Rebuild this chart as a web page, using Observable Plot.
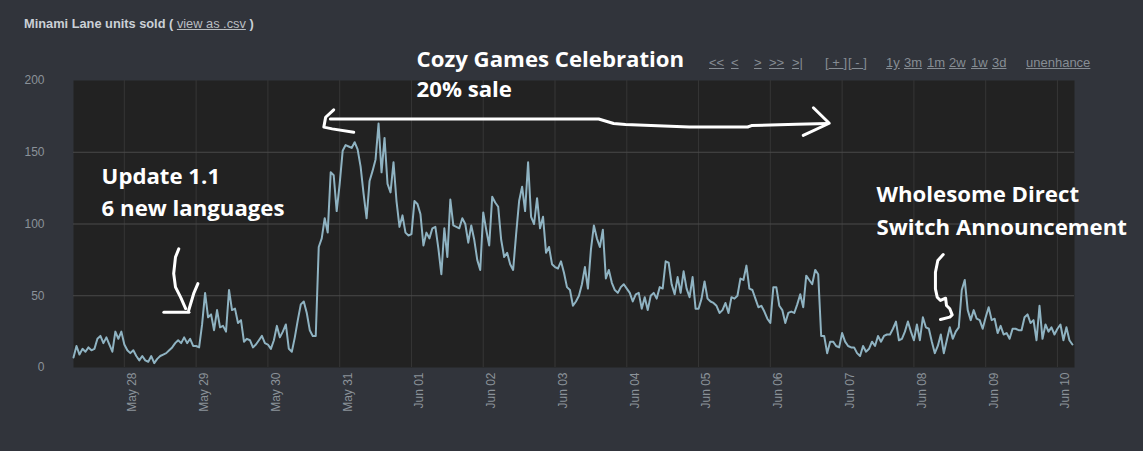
<!DOCTYPE html>
<html>
<head>
<meta charset="utf-8">
<script src="https://cdn.jsdelivr.net/npm/d3@7"></script>
<script src="https://cdn.jsdelivr.net/npm/@observablehq/plot@0.6"></script>
<style>
  html, body { margin: 0; padding: 0; background: #31343b; width: 1143px; height: 451px; overflow: hidden; }
  #wrap { position: relative; width: 1143px; height: 451px; }
  #chart { position: absolute; left: 0; top: 0; }
  .title { position: absolute; left: 24px; top: 16px; font: bold 12.8px Arial, "Liberation Sans", sans-serif; color: #cbd0d6; white-space: nowrap; }
  .title a { color: #b9bdc1; text-decoration: underline; font-weight: normal; }
  .nav span { position: absolute; top: 55px; font: 13px Arial, "Liberation Sans", sans-serif; color: #868d94; white-space: nowrap; }
  .nav u { text-decoration: underline; }
</style>
</head>
<body>
<div id="wrap">
  <div id="chart"></div>
  <div class="title">Minami Lane units sold ( <a>view as .csv</a> )</div>
  <div class="nav">
    <span style="left:709px"><u>&lt;&lt;</u></span>
    <span style="left:731px"><u>&lt;</u></span>
    <span style="left:754px"><u>&gt;</u></span>
    <span style="left:769px"><u>&gt;&gt;</u></span>
    <span style="left:792px"><u>&gt;|</u></span>
    <span style="left:825px">[<u> + </u>]</span>
    <span style="left:848px">[<u> - </u>]</span>
    <span style="left:886px"><u>1y</u></span>
    <span style="left:904px"><u>3m</u></span>
    <span style="left:927px"><u>1m</u></span>
    <span style="left:949px"><u>2w</u></span>
    <span style="left:971px"><u>1w</u></span>
    <span style="left:992px"><u>3d</u></span>
    <span style="left:1026px"><u>unenhance</u></span>
  </div>
</div>
<script>
// ---- data: hourly units sold, first value at 2024-05-27 07:00 ----
const may27 = [7, 15, 9, 13, 11, 14, 12, 13, 20, 22, 17, 21, 16, 11, 25, 20, 25];
const may28 = [16, 12, 10, 12, 8, 5, 8, 5, 4, 8, 3, 6, 8, 9, 10, 12, 14, 17, 19, 17, 21, 17, 20, 15];
const may29 = [15, 14, 30, 52, 35, 37, 26, 40, 28, 29, 25, 54, 40, 41, 31, 33, 18, 20, 19, 14, 16, 19, 22, 17];
const may30 = [16, 13, 19, 29, 21, 25, 30, 13, 11, 21, 33, 44, 46, 38, 26, 22, 22, 84, 90, 104, 94, 136, 134, 109];
const may31 = [128, 151, 155, 154, 153, 157, 152, 140, 121, 104, 130, 137, 145, 170, 136, 160, 128, 122, 143, 116, 98, 106, 94, 92];
const jun01 = [93, 116, 114, 107, 85, 94, 90, 97, 98, 83, 65, 97, 77, 117, 99, 98, 97, 104, 100, 87, 99, 89, 75, 68];
const jun02 = [108, 96, 85, 119, 115, 112, 89, 77, 80, 72, 68, 93, 116, 126, 109, 143, 105, 100, 118, 97, 105, 80, 84, 72];
const jun03 = [70, 69, 74, 66, 56, 54, 43, 46, 50, 58, 70, 55, 82, 99, 90, 84, 96, 62, 68, 59, 54, 52, 56, 58];
const jun04 = [55, 52, 46, 51, 52, 41, 49, 40, 50, 52, 48, 56, 55, 74, 73, 58, 51, 63, 52, 67, 55, 49, 63, 41];
const jun05 = [41, 48, 60, 48, 46, 45, 43, 38, 40, 45, 38, 49, 48, 50, 62, 61, 71, 55, 54, 48, 42, 43, 39, 34];
const jun06 = [31, 56, 56, 43, 40, 31, 38, 39, 38, 44, 51, 42, 64, 61, 58, 68, 65, 22, 22, 10, 18, 18, 15, 14];
const jun07 = [24, 18, 15, 14, 14, 10, 8, 15, 11, 13, 18, 15, 22, 18, 22, 23, 23, 27, 32, 19, 20, 25, 32, 25];
const jun08 = [19, 30, 19, 35, 28, 27, 18, 10, 15, 23, 10, 19, 28, 20, 25, 28, 54, 61, 40, 33, 40, 34, 33, 27];
const jun09 = [35, 42, 33, 34, 24, 29, 23, 24, 20, 27, 27, 26, 26, 35, 37, 31, 33, 19, 43, 20, 30, 25, 28, 23];
const jun10 = [27, 30, 19, 28, 19, 16];

const dayTicks = ["2024-05-28","2024-05-29","2024-05-30","2024-05-31","2024-06-01","2024-06-02","2024-06-03",
                  "2024-06-04","2024-06-05","2024-06-06","2024-06-07","2024-06-08","2024-06-09","2024-06-10"];
const yTicks = [0, 50, 100, 150, 200];
const yGrid = [50, 100, 150];

// annotation text lines: [text, hour offset, units]
const noteLines = [
  ["Cozy Games Celebration", 114.7, 209.4],
  ["20% sale", 114.7, 188.4],
  ["Update 1.1", 9.4, 128],
  ["6 new languages", 9.4, 105.9],
  ["Wholesome Direct", 268.5, 115],
  ["Switch Announcement", 268.5, 92]
];
// hand-drawn arrow strokes: [hour offset, units]
const saleLeftHead = [[87.0,179.6],[84.3,174.4],[83.7,167.5],[86.5,166.3],[93.7,164]];
const saleShaft = [[85.9,173.2],[175.6,173.2],[180.6,170],[184.6,169.3],[205.9,167.6],[225.4,167.6],[226.7,168.6],[241.8,169.5],[252.1,170]];
const saleRightHead = [[247.4,181],[252.7,170.2],[244.0,161.7]];
const updCurve = [[35.2,82.7],[34.1,76.9],[33.5,65.5],[34.1,56],[35.8,49],[37.5,41.1]];
const updBar = [[30.2,38.5],[38.6,38.5]];
const updDiag = [[38.5,39.7],[40.2,51.6],[41.6,58.5]];
const wdArrow = [[290.8,78.7],[289.0,74.6],[288.2,66.4],[288.2,54.8],[288.8,49],[289.9,46.7],[291.6,48.3],[291.9,43.2],[293.0,40.9],[293.8,36.7],[293.0,35.1],[289.9,33.4]];

// ---- build ----
const start = Date.UTC(2024, 4, 27, 7);
const H = 3600e3;
const hourDate = h => new Date(start + h * H);
const units = [].concat(may27, may28, may29, may30, may31, jun01, jun02, jun03, jun04, jun05, jun06, jun07, jun08, jun09, jun10);
const series = units.map((v, i) => ({t: hourDate(i), v}));
const ticks = dayTicks.map(s => new Date(s + "T00:00:00Z"));
const fmt = d3.utcFormat("%b %d");
const notes = noteLines.map(([text, h, v]) => ({text, t: hourDate(h), v}));
const strokes = [saleLeftHead, saleShaft, saleRightHead, updCurve, updBar, updDiag, wdArrow];
const arrowPts = strokes.flatMap((s, k) => s.map(([h, v]) => ({k, t: hourDate(h), v})));

const chart = Plot.plot({
  width: 1143,
  height: 451,
  marginLeft: 73,
  marginRight: 69,
  marginTop: 80,
  marginBottom: 84,
  style: {background: "transparent", color: "#8b9299", fontFamily: "Arial, 'Liberation Sans', sans-serif", fontSize: "12px", overflow: "visible"},
  x: {type: "utc", domain: [hourDate(0), hourDate(334.7)], label: null},
  y: {domain: [0, 200], label: null},
  marks: [
    Plot.frame({fill: "#222222", stroke: null}),
    Plot.gridX(ticks, {stroke: "#363636", strokeOpacity: 1}),
    Plot.gridY(yGrid, {stroke: "#4a4a4a", strokeOpacity: 1}),
    Plot.axisY({ticks: yTicks, tickSize: 0, tickPadding: 29, fill: "#8b9299", fontSize: 12, label: null}),
    Plot.axisX({ticks: ticks, tickSize: 0, tickPadding: 5, tickRotate: -90, tickFormat: fmt, dx: 8, fill: "#8b9299", fontSize: 12, label: null}),
    Plot.line(series, {x: "t", y: "v", stroke: "#8fb3c2", strokeWidth: 2}),
    Plot.line(arrowPts, {x: "t", y: "v", z: "k", stroke: "white", strokeWidth: 3, strokeLinecap: "round", strokeLinejoin: "round"}),
    Plot.text(notes, {x: "t", y: "v", text: "text", textAnchor: "start", lineAnchor: "bottom", fill: "white", fontSize: 22.2, fontWeight: "bold", fontFamily: "'Open Sans', 'Noto Sans', sans-serif"})
  ]
});
document.getElementById("chart").appendChild(chart);
</script>
</body>
</html>
